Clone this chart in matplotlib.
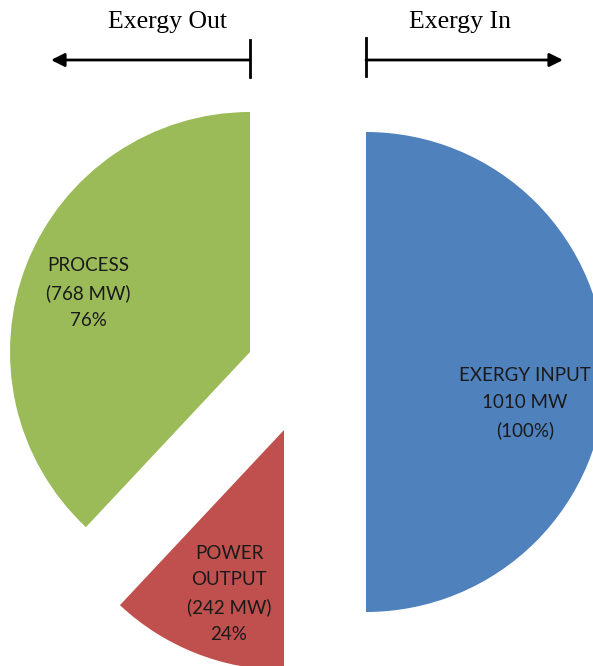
import matplotlib
matplotlib.use("Agg")
import matplotlib.pyplot as plt
from matplotlib.patches import Wedge

# Exergy balance data (MW)
out_labels = ["PROCESS", "POWER\nOUTPUT"]
out_values = [768, 242]
out_colors = ["#9BBB59", "#C0504D"]
in_label = "EXERGY INPUT"
in_value = 1010
in_color = "#4F81BD"

W, H = 593, 666
fig = plt.figure(figsize=(W / 100, H / 100), dpi=100)
ax = fig.add_axes([0, 0, 1, 1])
ax.set_xlim(0, W)
ax.set_ylim(0, H)
ax.set_aspect("equal")
ax.axis("off")

R = 240
label_font = dict(family=["Lato", "DejaVu Sans"], fontsize=13.5, ha="center",
                  va="center", linespacing=1.68, color="#1a1a1a")

# Left half: outputs, laid out counterclockwise from the top
total_out = sum(out_values)
centers = [(250, H - 352), (284, H - 430)]
label_pos = [(88, H - 293), (229, H - 594)]
start = 90.0
for val, lab, col, c, lp in zip(out_values, out_labels, out_colors, centers, label_pos):
    span = 180.0 * val / total_out
    ax.add_patch(Wedge(c, R, start, start + span, facecolor=col, edgecolor="none"))
    pct = round(100 * val / in_value)
    ax.text(lp[0], lp[1], f"{lab}\n({val} MW)\n{pct}%", **label_font)
    start += span

# Right half: input
ax.add_patch(Wedge((366, H - 372), R, -90, 90, facecolor=in_color, edgecolor="none"))
ax.text(525, H - 403, f"{in_label}\n{in_value} MW\n(100%)", **label_font)

# Direction headers
serif = dict(family=["Liberation Serif", "DejaVu Serif"], fontsize=18.5, ha="center",
             va="center", color="black")
ax.text(167, H - 22, "Exergy Out", **serif)
ax.text(460, H - 22, "Exergy In", **serif)

ay = H - 60
ax.annotate("", xy=(51, ay), xytext=(250, ay),
            arrowprops=dict(arrowstyle="-|>", color="black", lw=2,
                            mutation_scale=20, shrinkA=0, shrinkB=0))
ax.annotate("", xy=(563, ay), xytext=(366, ay),
            arrowprops=dict(arrowstyle="-|>", color="black", lw=2,
                            mutation_scale=20, shrinkA=0, shrinkB=0))
ax.plot([250, 250], [H - 40, H - 77], color="black", lw=2)
ax.plot([366, 366], [H - 38, H - 76], color="black", lw=2)

fig.savefig("out.png", dpi=100)
